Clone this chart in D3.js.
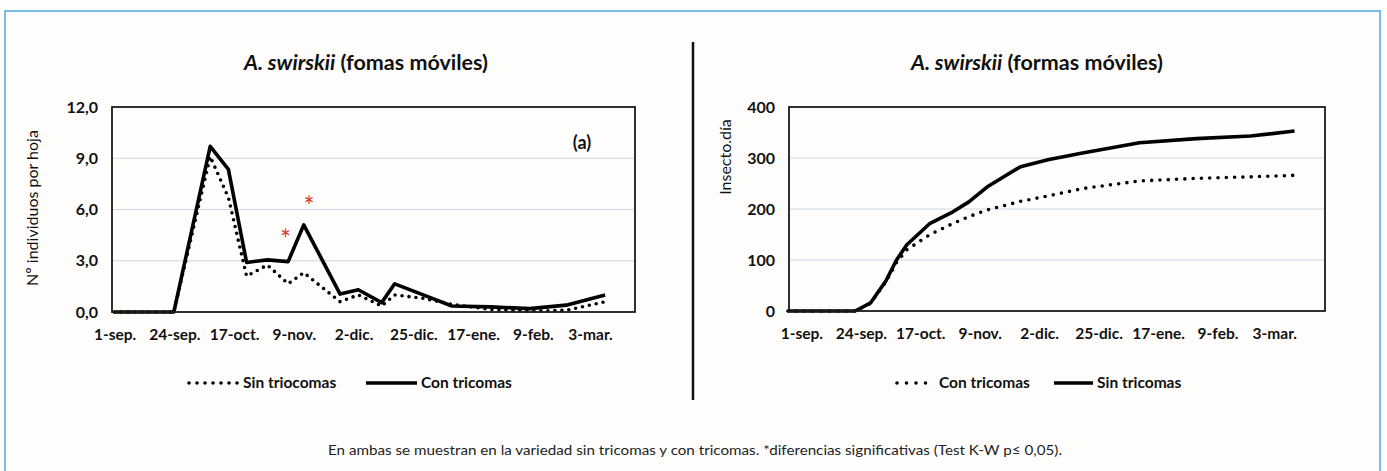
<!DOCTYPE html>
<html>
<head>
<meta charset="utf-8">
<script src="https://cdn.jsdelivr.net/npm/d3@7"></script>
<style>
  html, body { margin: 0; padding: 0; background: #fffefd; }
  svg { display: block; }
  text { font-family: Lato, "Open Sans", sans-serif; fill: #111; }
</style>
</head>
<body>
<svg id="chart" width="1387" height="471"></svg>
<script>
// ---- data ----
const tickDates = ["2013-09-01", "2013-09-24", "2013-10-17", "2013-11-09", "2013-12-02",
                   "2013-12-25", "2014-01-17", "2014-02-09", "2014-03-03"];
const tickLabels = ["1-sep.", "24-sep.", "17-oct.", "9-nov.", "2-dic.", "25-dic.", "17-ene.", "9-feb.", "3-mar."];

// left chart: individuals per leaf
const leftDates = ["2013-09-01", "2013-09-10", "2013-09-17", "2013-09-24", "2013-10-08", "2013-10-15",
                   "2013-10-22", "2013-10-30", "2013-11-07", "2013-11-13", "2013-11-27", "2013-12-04",
                   "2013-12-13", "2013-12-18", "2013-12-29", "2014-01-09", "2014-01-24", "2014-02-08",
                   "2014-02-22", "2014-03-09"];
const leftSinTriocomas = [0, 0, 0, 0, 9.1, 6.7, 2.1, 2.75, 1.65, 2.3, 0.6, 1.0, 0.35, 1.0, 0.8, 0.45, 0.15, 0.05, 0.1, 0.6];
const leftConTricomas  = [0, 0, 0, 0, 9.7, 8.35, 2.9, 3.05, 2.95, 5.1, 1.05, 1.3, 0.55, 1.65, 1.0, 0.35, 0.3, 0.2, 0.4, 1.0];
const leftYTicks = [0, 3, 6, 9, 12];
const signifDates = ["2013-11-06", "2013-11-15"];
const signifValues = [4.8, 6.7];

// right chart: cumulative insect-days
const rightDates = ["2013-08-27", "2013-09-22", "2013-09-28", "2013-10-04", "2013-10-08", "2013-10-12",
                    "2013-10-21", "2013-10-30", "2013-11-05", "2013-11-12", "2013-11-25", "2013-12-06",
                    "2013-12-19", "2014-01-10", "2014-02-01", "2014-02-22", "2014-03-11"];
const rightConTricomas = [0, 0, 15, 58, 95, 120, 150, 172, 185, 198, 215, 226, 240, 255, 260, 263, 266];
const rightSinTricomas = [0, 0, 16, 60, 100, 130, 172, 195, 214, 243, 283, 297, 310, 330, 338, 343, 353];
const rightYTicks = [0, 100, 200, 300, 400];

// ---- helpers ----
const parse = d3.utcParse("%Y-%m-%d");
const dayOffset = (s, n) => new Date(parse(s).getTime() + n * 864e5);
const svg = d3.select("#chart");

// outer frame
svg.append("rect").attr("x", 5).attr("y", 11).attr("width", 1375).attr("height", 480)
  .attr("fill", "none").attr("stroke", "#4ea5e2").attr("stroke-width", 1.5);

// divider
svg.append("line").attr("x1", 693).attr("x2", 693).attr("y1", 42).attr("y2", 400)
  .attr("stroke", "#111").attr("stroke-width", 2.5);

function drawPanel(opt) {
  const g = svg.append("g");
  const x = d3.scaleUtc().domain(opt.xDomain).range([opt.left, opt.right]);
  const y = d3.scaleLinear().domain([0, opt.yMax]).range([opt.bottom, opt.top]);

  // gridlines
  g.append("g").selectAll("line").data(opt.yTicks.filter(v => v > 0 && v < opt.yMax)).join("line")
    .attr("x1", opt.left).attr("x2", opt.right)
    .attr("y1", d => y(d)).attr("y2", d => y(d))
    .attr("stroke", "#c9d7e6").attr("stroke-width", 1.2);

  // y tick labels
  g.append("g").selectAll("text").data(opt.yTicks).join("text")
    .attr("x", opt.left - 14).attr("y", d => y(d)).attr("dy", "0.35em")
    .attr("text-anchor", "end").attr("font-size", 16).attr("font-weight", 700)
    .text(opt.yFormat);

  // x tick labels
  g.append("g").selectAll("text").data(tickDates).join("text")
    .attr("x", d => x(parse(d)) + 1).attr("y", opt.bottom + 28)
    .attr("text-anchor", "middle").attr("font-size", 15.5).attr("font-weight", 700)
    .text((d, i) => tickLabels[i]);

  // y title
  g.append("text")
    .attr("transform", `translate(${opt.yTitleX},${opt.yTitleY}) rotate(-90)`)
    .attr("text-anchor", "middle").attr("font-size", 16)
    .text(opt.yTitle);

  // title
  const t = g.append("text").attr("x", opt.titleX).attr("y", 70)
    .attr("text-anchor", "middle").attr("font-size", 21.5).attr("font-weight", 700);
  t.append("tspan").attr("font-style", "italic").text("A. swirskii");
  t.append("tspan").text(opt.titleRest);

  const line = d3.line().x(d => x(d.date)).y(d => y(d.v));

  // series
  opt.series.forEach(s => {
    const pts = opt.dates.map((d, i) => ({ date: parse(d), v: s.values[i] }));
    g.append("path").datum(pts).attr("d", line)
      .attr("fill", "none").attr("stroke", "#000")
      .attr("stroke-width", s.dotted ? 3.6 : 3.6)
      .attr("stroke-linecap", s.dotted ? "round" : "butt")
      .attr("stroke-linejoin", "round")
      .attr("stroke-dasharray", s.dotted ? s.dash : null);
  });

  // plot frame
  g.append("rect").attr("x", opt.left).attr("y", opt.top)
    .attr("width", opt.right - opt.left).attr("height", opt.bottom - opt.top)
    .attr("fill", "none").attr("stroke", "#1e1a18").attr("stroke-width", 1.8);

  // legend
  let lx = opt.legendX;
  const ly = 383;
  opt.legend.forEach(item => {
    g.append("line").attr("x1", lx).attr("x2", lx + item.len).attr("y1", ly).attr("y2", ly)
      .attr("stroke", "#000").attr("stroke-width", 3.6)
      .attr("stroke-linecap", item.dotted ? "round" : "butt")
      .attr("stroke-dasharray", item.dotted ? item.dash : null);
    g.append("text").attr("x", lx + item.len + 4).attr("y", ly).attr("dy", "0.35em")
      .attr("font-size", 15.5).attr("font-weight", 700).text(item.label);
    lx += item.step;
  });

  return { g, x, y };
}

const left = drawPanel({
  left: 112, right: 635, top: 107, bottom: 312, yMax: 12,
  xDomain: [dayOffset("2013-09-01", -0.8), dayOffset("2013-09-01", 200.5)],
  yTicks: leftYTicks, yFormat: d => d3.format(".1f")(d).replace(".", ","),
  yTitle: "Nº individuos por hoja", yTitleX: 38, yTitleY: 208,
  titleX: 366, titleRest: " (fomas móviles)",
  dates: leftDates,
  series: [
    { values: leftSinTriocomas, dotted: true, dash: "0 7" },
    { values: leftConTricomas, dotted: false }
  ],
  legendX: 189,
  legend: [
    { label: "Sin triocomas", dotted: true, dash: "0 8", len: 50, step: 177 },
    { label: "Con tricomas", dotted: false, len: 51 }
  ]
});

// significance marks
left.g.append("g").selectAll("text").data(signifDates).join("text")
  .attr("x", d => left.x(parse(d))).attr("y", (d, i) => left.y(signifValues[i]))
  .attr("dy", "0.72em").attr("text-anchor", "middle")
  .attr("font-size", 26).style("fill", "#d8352a").text("*");

left.g.append("text").attr("x", 582).attr("y", 143).attr("dy", "0.35em")
  .attr("text-anchor", "middle").attr("font-size", 18).attr("font-weight", 700).text("(a)");

drawPanel({
  left: 789, right: 1325, top: 107, bottom: 311, yMax: 400,
  xDomain: [dayOffset("2013-09-01", -4.6), dayOffset("2013-09-01", 202.8)],
  yTicks: rightYTicks, yFormat: d => d,
  yTitle: "Insecto.día", yTitleX: 731, yTitleY: 157,
  titleX: 1037, titleRest: " (formas móviles)",
  dates: rightDates,
  series: [
    { values: rightConTricomas, dotted: true, dash: "0 8.3" },
    { values: rightSinTricomas, dotted: false }
  ],
  legendX: 897,
  legend: [
    { label: "Con tricomas", dotted: true, dash: "0 9.5", len: 38, step: 157 },
    { label: "Sin tricomas", dotted: false, len: 39 }
  ]
});

// caption
svg.append("text").attr("x", 695).attr("y", 455).attr("text-anchor", "middle")
  .attr("font-size", 13.5).attr("textLength", 734).attr("lengthAdjust", "spacingAndGlyphs")
  .style("fill", "#222")
  .text("En ambas se muestran en la variedad sin tricomas y con tricomas. *diferencias significativas (Test K-W p≤ 0,05).");
</script>
</body>
</html>
